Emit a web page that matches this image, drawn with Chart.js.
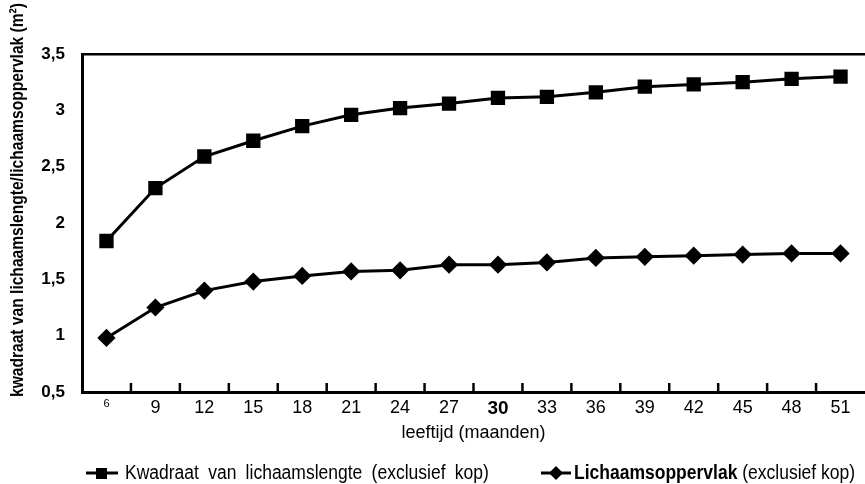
<!DOCTYPE html>
<html>
<head>
<meta charset="utf-8">
<script src="https://cdn.jsdelivr.net/npm/chart.js@4"></script>
<style>
  html, body { margin: 0; padding: 0; background: #fff; }
  #wrap { position: relative; width: 865px; height: 484px; overflow: hidden; }
  #ytitel { position: absolute; left: 17px; top: 200px; white-space: nowrap;
    font-family: "Liberation Sans", Arial, sans-serif; font-weight: bold; font-size: 19px; line-height: 20px;
    transform: translate(-50%, -50%) rotate(-90deg) scaleX(0.82); color: #000; }
  #legende { position: absolute; top: 461px; left: 0; width: 865px; height: 24px;
    font-family: "Liberation Sans", Arial, sans-serif; font-size: 20px; color: #000; }
  .item { position: absolute; top: 0; white-space: nowrap; display: flex; align-items: center; }
  .item svg { margin-right: 7px; flex: none; }
  .tekst { display: inline-block; transform: scaleX(0.875); transform-origin: left center; }
</style>
</head>
<body>
<div id="wrap">
  <canvas id="grafica" width="865" height="484"></canvas>
  <div id="ytitel">kwadraat van lichaamslengte/lichaamsoppervlak (m²)</div>
  <div id="legende">
    <div class="item" style="left:86px;">
      <svg width="32" height="14"><line x1="0" y1="7" x2="32" y2="7" stroke="#000" stroke-width="3"/><rect x="10" y="2" width="11" height="11" fill="#000"/></svg>
      <span class="tekst" style="word-spacing:5px;">Kwadraat van lichaamslengte (exclusief kop)</span>
    </div>
    <div class="item" style="left:541px;">
      <svg width="30" height="16" style="margin-right:3px;"><line x1="0" y1="8" x2="30" y2="8" stroke="#000" stroke-width="3"/><polygon points="15,1 22,8 15,15 8,8" fill="#000"/></svg>
      <span class="tekst"><b>Lichaamsoppervlak</b> (exclusief kop)</span>
    </div>
  </div>
</div>
<script>
// leeftijd in maanden (categorieen op de x-as)
const maanden = ["6", "9", "12", "15", "18", "21", "24", "27", "30", "33", "36", "39", "42", "45", "48", "51"];
// kwadraat van lichaamslengte (m2)
const kwadraat = [1.84, 2.31, 2.59, 2.73, 2.86, 2.96, 3.02, 3.06, 3.11, 3.12, 3.16, 3.21, 3.23, 3.25, 3.28, 3.30];
// lichaamsoppervlak (m2)
const oppervlak = [0.98, 1.25, 1.40, 1.48, 1.53, 1.57, 1.58, 1.63, 1.63, 1.65, 1.69, 1.70, 1.71, 1.72, 1.73, 1.73];
// y-as
const yMin = 0.5, yMax = 3.5, yStap = 0.5;

const lettertype = '"Liberation Sans", Arial, sans-serif';

// kleine streepjes op de x-as, tussen de categorieen, naar binnen
const streepjes = {
  id: 'streepjes',
  afterDraw(chart) {
    const x = chart.scales.x;
    const onder = chart.chartArea.bottom;
    const c = chart.ctx;
    c.save();
    c.strokeStyle = '#000';
    c.lineWidth = 2.5;
    for (let i = 0; i < maanden.length - 1; i++) {
      const px = (x.getPixelForTick(i) + x.getPixelForTick(i + 1)) / 2;
      c.beginPath();
      c.moveTo(px, onder);
      c.lineTo(px, onder - 9);
      c.stroke();
    }
    c.restore();
  }
};

new Chart(document.querySelector('#grafica'), {
  type: 'line',
  data: {
    labels: maanden,
    datasets: [
      {
        label: 'Kwadraat van lichaamslengte (exclusief kop)',
        data: kwadraat,
        borderColor: '#000',
        backgroundColor: '#000',
        borderWidth: 3,
        pointStyle: 'rect',
        pointRadius: 8,
        tension: 0
      },
      {
        label: 'Lichaamsoppervlak (exclusief kop)',
        data: oppervlak,
        borderColor: '#000',
        backgroundColor: '#000',
        borderWidth: 3,
        pointStyle: 'rectRot',
        pointRadius: 7,
        tension: 0
      }
    ]
  },
  options: {
    responsive: false,
    animation: false,
    layout: { autoPadding: false, padding: { top: 54, right: 0, bottom: 38, left: 0 } },
    plugins: { legend: { display: false }, tooltip: { enabled: false } },
    scales: {
      x: {
        type: 'category',
        offset: true,
        afterFit(scale) {
          scale.height = 54;
          scale.paddingLeft = 0;
          scale.paddingRight = 0;
        },
        border: { color: '#000', width: 3 },
        grid: { display: false, drawTicks: false },
        ticks: {
          color: '#000',
          padding: 5,
          maxRotation: 0,
          font: (ctx) => {
            if (ctx.index === 0) return { family: lettertype, size: 11 };
            if (ctx.index === 8) return { family: lettertype, size: 19, weight: 'bold' };
            return { family: lettertype, size: 18 };
          }
        },
        title: {
          display: true,
          text: 'leeftijd (maanden)',
          color: '#000',
          font: { family: lettertype, size: 18 },
          padding: { top: 0, bottom: 2 }
        }
      },
      y: {
        min: yMin,
        max: yMax,
        afterFit(scale) { scale.width = 82; },
        border: { color: '#000', width: 3 },
        grid: {
          drawTicks: false,
          color: (ctx) => ctx.tick && ctx.tick.value === yMax ? '#000' : 'rgba(0,0,0,0)',
          lineWidth: 2.5
        },
        ticks: {
          stepSize: yStap,
          color: '#000',
          padding: 17,
          font: { family: lettertype, size: 17, weight: 'bold' },
          callback: (v) => String(v).replace('.', ',')
        }
      }
    }
  },
  plugins: [streepjes]
});
</script>
</body>
</html>
